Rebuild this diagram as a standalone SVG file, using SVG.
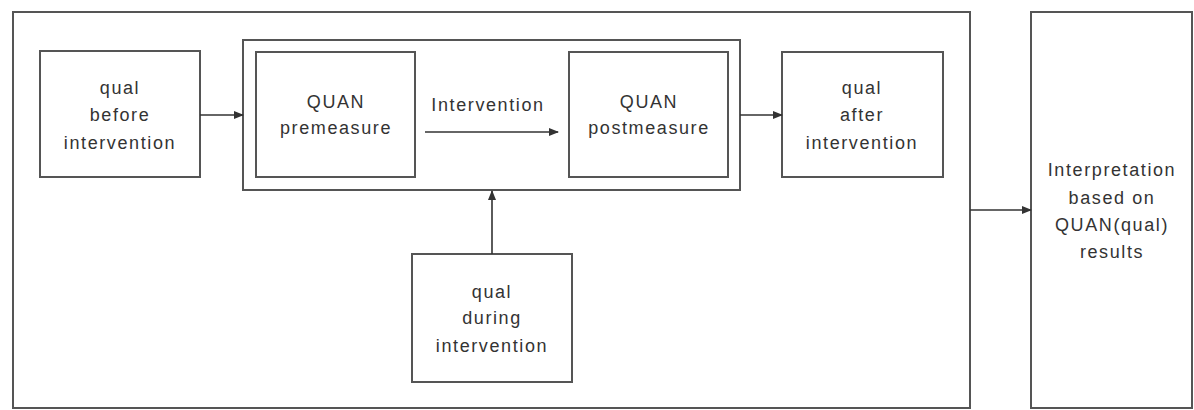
<svg xmlns="http://www.w3.org/2000/svg" width="1194" height="410" viewBox="0 0 1194 410">
<style>
.box{fill:none;stroke:#555;stroke-width:2}
.lbl{font-family:"Liberation Sans",Arial,sans-serif;font-size:18px;fill:#333;text-anchor:middle;letter-spacing:1.6px}
.con{stroke:#333;stroke-width:1.6;fill:none;marker-end:url(#ah)}
</style>
<defs>
<marker id="ah" markerWidth="10" markerHeight="8" refX="9" refY="4" orient="auto" markerUnits="userSpaceOnUse">
<path d="M0,0 L10,4 L0,8 Z" fill="#333"/>
</marker>
</defs>
<rect width="1194" height="410" fill="#fff"/>
<g id="outer"><rect class="box" x="13" y="12" width="957" height="396"/></g>
<g id="group"><rect class="box" x="243" y="40" width="497" height="150"/></g>
<g id="before">
<rect class="box" x="40" y="51" width="160" height="126"/>
<text class="lbl" x="120" y="94">qual</text>
<text class="lbl" x="120" y="121">before</text>
<text class="lbl" x="120" y="149">intervention</text>
</g>
<g id="pre">
<rect class="box" x="256" y="52" width="159" height="125"/>
<text class="lbl" x="336" y="108">QUAN</text>
<text class="lbl" x="336" y="134">premeasure</text>
</g>
<g id="post">
<rect class="box" x="569" y="52" width="159" height="125"/>
<text class="lbl" x="649" y="108">QUAN</text>
<text class="lbl" x="649" y="134">postmeasure</text>
</g>
<g id="after">
<rect class="box" x="782" y="52" width="161" height="125"/>
<text class="lbl" x="862" y="94">qual</text>
<text class="lbl" x="862" y="121">after</text>
<text class="lbl" x="862" y="149">intervention</text>
</g>
<g id="during">
<rect class="box" x="412" y="254" width="160" height="128"/>
<text class="lbl" x="492" y="298">qual</text>
<text class="lbl" x="492" y="324">during</text>
<text class="lbl" x="492" y="352">intervention</text>
</g>
<g id="interp">
<rect class="box" x="1031" y="12" width="161" height="396"/>
<text class="lbl" x="1112" y="176">Interpretation</text>
<text class="lbl" x="1112" y="204">based on</text>
<text class="lbl" x="1112" y="231">QUAN(qual)</text>
<text class="lbl" x="1112" y="258">results</text>
</g>
<g id="connectors">
<line class="con" x1="200" y1="115" x2="243" y2="115"/>
<line class="con" x1="425" y1="132" x2="558" y2="132"/>
<text class="lbl" x="488" y="111">Intervention</text>
<line class="con" x1="740" y1="115" x2="782" y2="115"/>
<line class="con" x1="970" y1="210" x2="1031" y2="210"/>
<line class="con" x1="492" y1="254" x2="492" y2="191"/>
</g>
</svg>
